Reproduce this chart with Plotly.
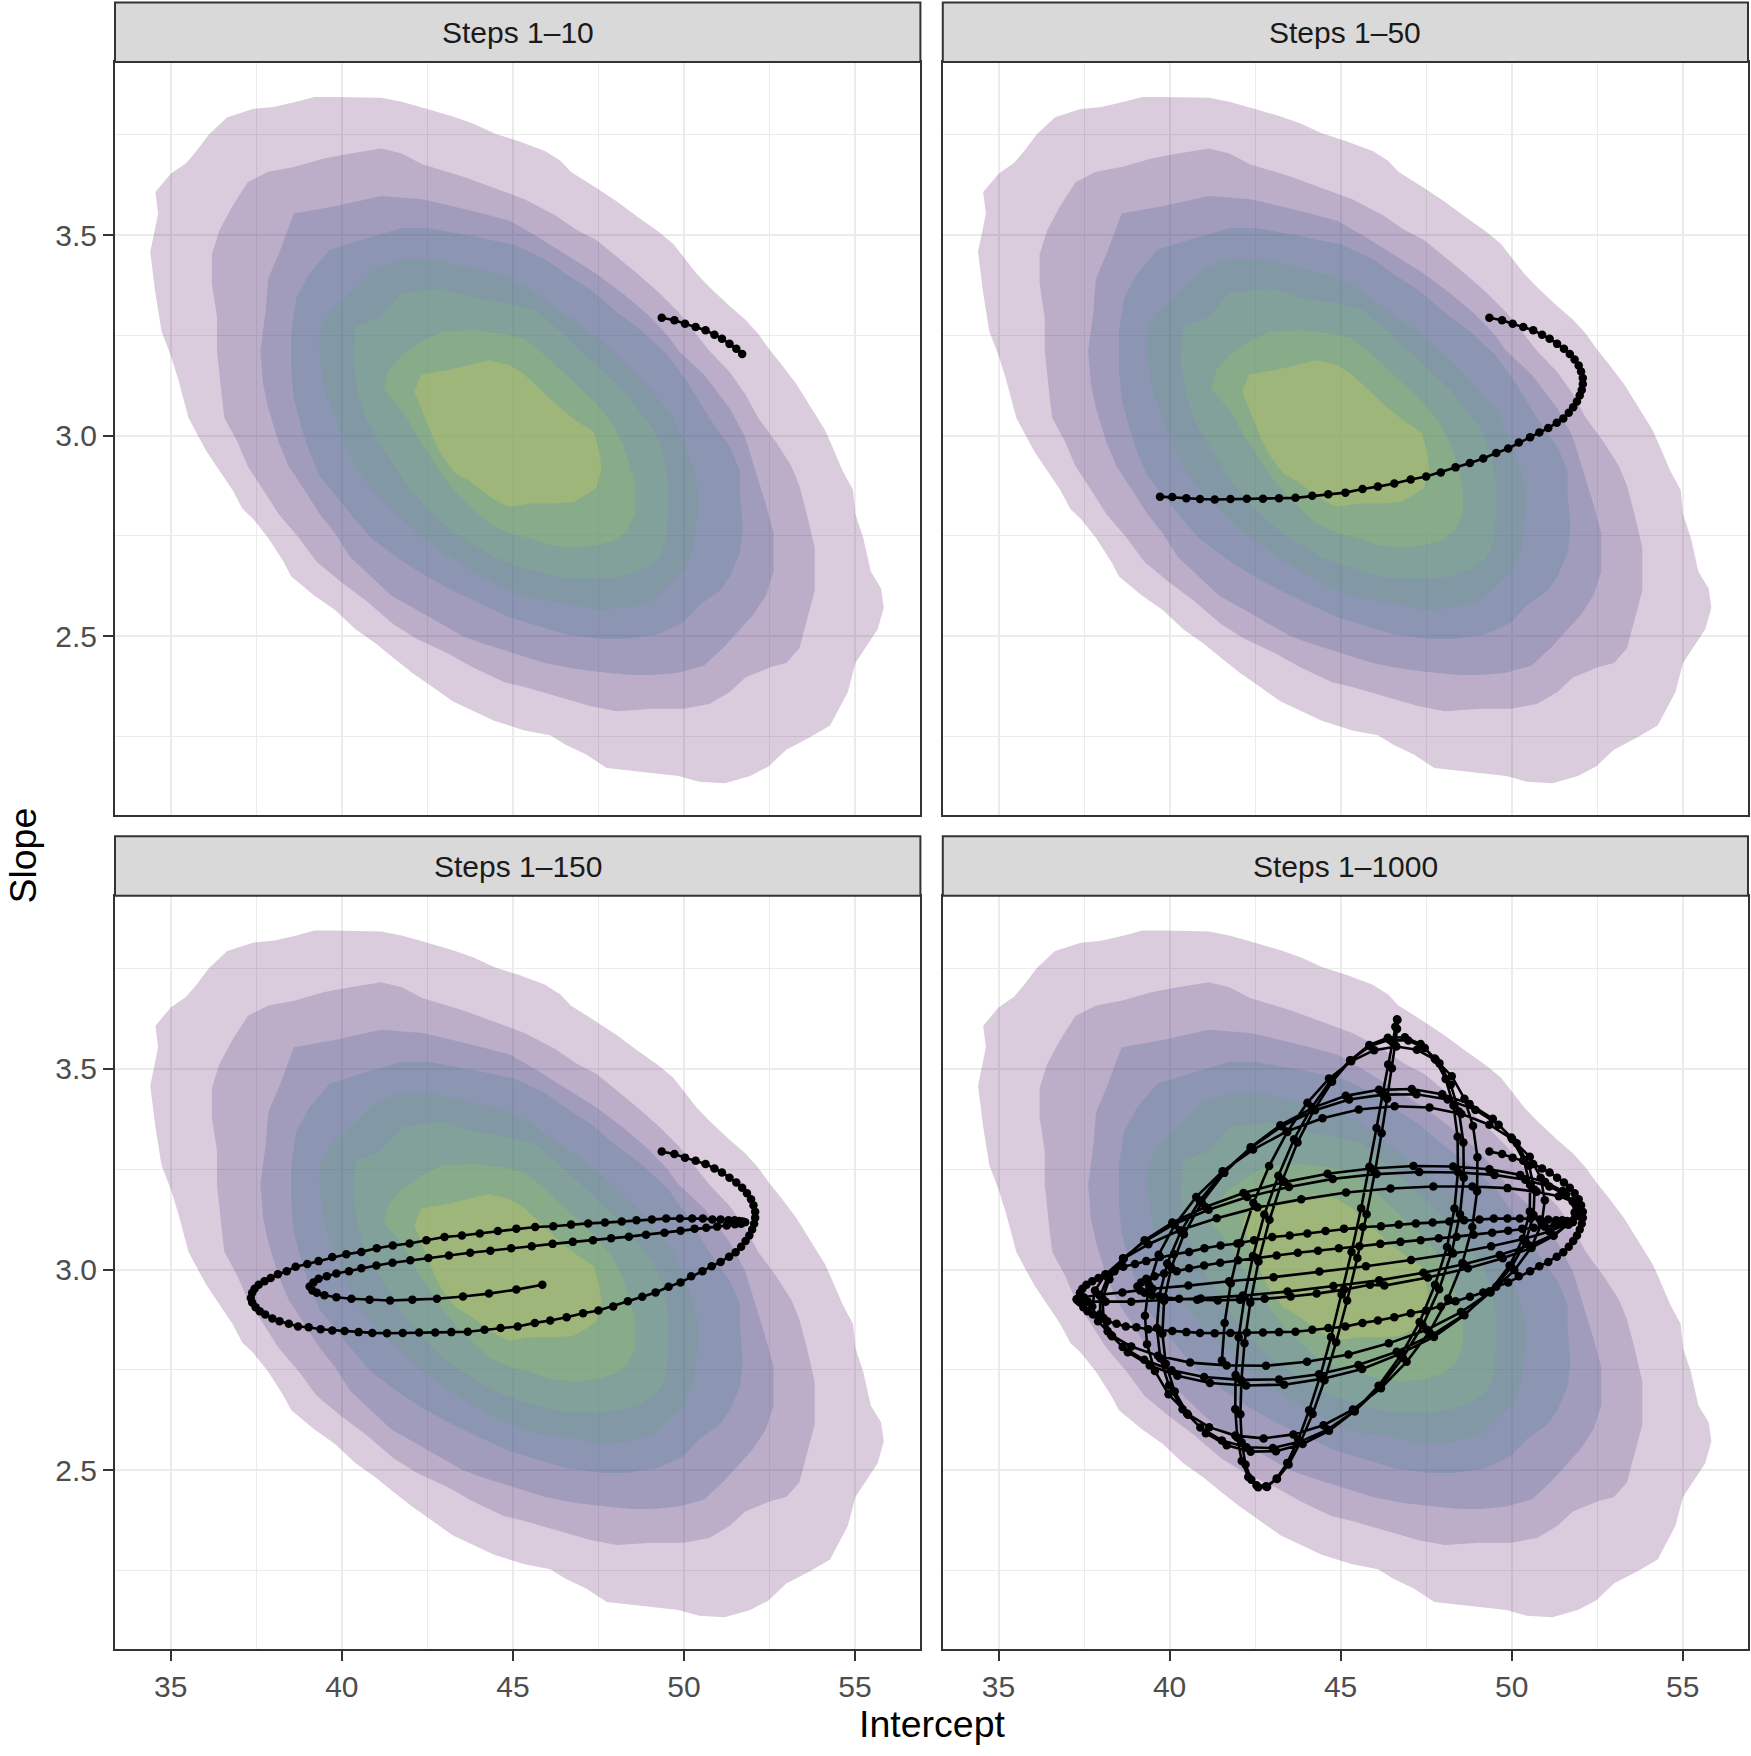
import plotly.graph_objects as go

# ---------------- data ----------------
facet_labels = ["Steps 1\u201310", "Steps 1\u201350", "Steps 1\u2013150", "Steps 1\u20131000"]
points_per_facet = [10, 50, 145, None]   # trajectory points shown in each facet

level_colors = ["#440154", "#46337E", "#365C8D", "#3C7D8E",
                "#5AA373", "#7DC86E", "#A5DC4B", "#FFE13C"]
level_alpha = 0.2

# density contour polygons (Intercept, Slope), outermost first
band_1 = [(39.20,3.845),(39.80,3.845),(41.15,3.843),(41.75,3.833),(42.50,3.815),(43.25,3.796),(43.85,3.778),(44.45,3.754),(45.19,3.734),(45.94,3.710),(46.39,3.686),(46.69,3.658),(47.44,3.618),(48.04,3.584),(48.64,3.546),(49.24,3.510),(49.69,3.478),(49.99,3.446),(50.37,3.404),(50.74,3.371),(51.34,3.323),(51.79,3.290),(52.17,3.254),(52.47,3.218),(52.84,3.179),(53.29,3.128),(53.74,3.066),(54.12,3.014),(54.34,2.972),(54.64,2.912),(54.94,2.865),(55.01,2.805),(55.24,2.745),(55.46,2.661),(55.76,2.619),(55.84,2.571),(55.66,2.517),(55.39,2.481),(55.01,2.433),(54.79,2.361),(54.56,2.325),(54.27,2.277),(53.67,2.247),(52.99,2.217),(52.47,2.175),(51.94,2.151),(51.19,2.133),(50.44,2.137),(49.84,2.151),(49.24,2.157),(48.64,2.163),(47.74,2.171),(47.14,2.205),(46.54,2.229),(46.09,2.253),(45.34,2.265),(44.45,2.289),(43.85,2.313),(43.25,2.337),(42.65,2.373),(42.05,2.409),(41.52,2.445),(41.00,2.481),(40.40,2.517),(39.80,2.565),(39.20,2.601),(38.52,2.649),(38.30,2.685),(37.85,2.745),(37.40,2.793),(37.10,2.817),(36.80,2.865),(36.42,2.912),(36.05,2.960),(35.82,2.996),(35.52,3.044),(35.22,3.140),(35.00,3.200),(34.73,3.260),(34.63,3.308),(34.55,3.356),(34.40,3.458),(34.63,3.554),(34.55,3.608),(35.00,3.653),(35.45,3.680),(35.75,3.710),(36.12,3.752),(36.65,3.794),(37.40,3.815),(38.00,3.820),(38.67,3.833)]
band_2 = [(40.25,3.704),(41.15,3.716),(41.75,3.704),(42.35,3.677),(43.55,3.646),(44.45,3.618),(45.34,3.590),(46.24,3.550),(46.84,3.514),(47.44,3.488),(48.04,3.446),(48.64,3.404),(49.24,3.359),(49.84,3.308),(50.29,3.260),(50.74,3.212),(51.34,3.158),(51.79,3.104),(52.17,3.044),(52.69,2.984),(53.14,2.924),(53.37,2.876),(53.59,2.805),(53.82,2.721),(53.82,2.613),(53.59,2.541),(53.37,2.469),(52.99,2.433),(52.54,2.423),(51.79,2.397),(51.34,2.361),(50.74,2.331),(49.99,2.319),(49.09,2.319),(48.04,2.313),(47.29,2.325),(46.54,2.343),(45.34,2.373),(44.75,2.385),(43.85,2.421),(43.10,2.457),(42.20,2.493),(41.52,2.529),(40.70,2.589),(39.95,2.637),(39.27,2.685),(38.75,2.745),(38.15,2.805),(37.70,2.865),(37.25,2.924),(36.95,2.984),(36.57,3.044),(36.50,3.092),(36.42,3.164),(36.35,3.212),(36.35,3.296),(36.20,3.380),(36.20,3.452),(36.42,3.512),(36.80,3.572),(37.25,3.632),(37.85,3.658),(38.60,3.670),(39.50,3.692)]
band_3 = [(38.60,3.554),(39.80,3.572),(41.15,3.598),(42.35,3.590),(43.85,3.560),(44.90,3.536),(45.64,3.500),(46.54,3.452),(47.44,3.404),(48.19,3.356),(48.94,3.302),(49.54,3.248),(49.84,3.212),(50.59,3.152),(51.34,3.068),(51.79,2.996),(52.09,2.912),(52.39,2.829),(52.62,2.757),(52.62,2.661),(52.39,2.601),(52.02,2.553),(51.64,2.517),(51.19,2.475),(50.59,2.427),(49.84,2.409),(49.09,2.403),(48.49,2.403),(47.74,2.409),(46.84,2.418),(45.94,2.433),(45.04,2.457),(44.15,2.481),(43.55,2.499),(42.95,2.529),(42.20,2.565),(41.45,2.601),(40.85,2.649),(40.25,2.697),(39.80,2.757),(39.35,2.805),(38.90,2.865),(38.45,2.924),(38.15,2.984),(37.85,3.068),(37.70,3.128),(37.62,3.212),(37.77,3.308),(37.85,3.392),(38.15,3.452)]
band_4 = [(39.65,3.464),(40.55,3.488),(41.75,3.518),(42.50,3.518),(43.70,3.500),(45.04,3.476),(45.94,3.440),(46.54,3.404),(47.29,3.362),(48.04,3.308),(48.79,3.260),(49.54,3.200),(50.14,3.128),(50.74,3.044),(51.34,2.972),(51.64,2.912),(51.64,2.853),(51.72,2.769),(51.64,2.709),(51.34,2.649),(51.04,2.613),(50.44,2.577),(49.99,2.535),(49.24,2.505),(48.34,2.493),(47.59,2.493),(46.54,2.505),(45.64,2.529),(44.90,2.547),(44.15,2.577),(43.25,2.613),(42.35,2.655),(41.60,2.697),(40.85,2.745),(40.25,2.805),(39.80,2.853),(39.35,2.900),(39.05,2.960),(38.82,3.020),(38.60,3.092),(38.52,3.164),(38.52,3.260),(38.67,3.344),(39.05,3.404)]
band_5 = [(41.00,3.416),(41.75,3.440),(42.65,3.440),(43.85,3.416),(44.75,3.398),(45.49,3.368),(46.24,3.320),(46.84,3.284),(47.59,3.236),(48.19,3.188),(48.79,3.140),(49.24,3.092),(49.69,3.044),(49.99,2.984),(50.29,2.912),(50.44,2.853),(50.37,2.793),(50.29,2.721),(49.99,2.661),(49.54,2.625),(49.09,2.589),(48.34,2.571),(47.44,2.565),(46.54,2.583),(45.49,2.595),(44.75,2.619),(43.85,2.661),(42.95,2.709),(42.20,2.757),(41.60,2.805),(41.00,2.853),(40.47,2.912),(40.10,2.972),(39.80,3.044),(39.50,3.116),(39.35,3.200),(39.35,3.260),(39.65,3.308),(40.25,3.356)]
band_6 = [(40.40,3.272),(41.15,3.296),(41.75,3.356),(42.35,3.362),(42.95,3.368),(43.85,3.344),(44.75,3.332),(45.64,3.314),(46.39,3.260),(46.99,3.212),(47.59,3.164),(48.19,3.116),(48.64,3.068),(49.09,3.020),(49.39,2.960),(49.54,2.888),(49.54,2.805),(49.47,2.733),(49.24,2.691),(48.79,2.667),(48.19,2.649),(47.44,2.643),(46.54,2.643),(45.94,2.655),(45.19,2.673),(44.45,2.697),(43.85,2.727),(43.10,2.769),(42.50,2.817),(41.90,2.876),(41.45,2.936),(41.00,2.996),(40.70,3.044),(40.47,3.104),(40.32,3.188)]
band_7 = [(41.22,3.116),(41.37,3.164),(41.75,3.200),(42.35,3.236),(42.95,3.260),(43.85,3.263),(44.75,3.254),(45.34,3.242),(45.94,3.200),(46.54,3.152),(47.14,3.104),(47.44,3.080),(47.89,3.032),(48.19,2.984),(48.42,2.924),(48.57,2.876),(48.57,2.805),(48.34,2.763),(47.97,2.739),(47.44,2.727),(46.84,2.721),(46.09,2.727),(45.49,2.745),(44.90,2.757),(44.30,2.781),(43.85,2.817),(43.40,2.853),(42.95,2.900),(42.50,2.960),(42.20,2.996),(41.90,3.044),(41.60,3.080)]
band_8 = [(42.32,3.152),(43.10,3.164),(43.85,3.179),(44.30,3.188),(44.90,3.176),(45.34,3.152),(45.79,3.116),(46.39,3.068),(46.84,3.038),(47.37,3.008),(47.52,2.960),(47.59,2.918),(47.44,2.871),(47.14,2.853),(46.77,2.835),(46.24,2.831),(45.49,2.831),(44.90,2.823),(44.45,2.841),(44.15,2.859),(43.70,2.888),(43.32,2.906),(42.95,2.948),(42.72,2.984),(42.50,3.032),(42.32,3.068),(42.12,3.110)]
bands = [band_1, band_2, band_3, band_4, band_5, band_6, band_7, band_8]

# sampler trajectory (Intercept, Slope), early steps read point by point
path_early = [(49.35,3.294),(49.72,3.288),(50.03,3.279),(50.34,3.271),(50.63,3.263),(50.89,3.252),(51.11,3.242),(51.33,3.229),(51.53,3.217),(51.70,3.204),
(51.84,3.190),(51.96,3.175),(52.03,3.160),(52.08,3.144),(52.08,3.129),(52.05,3.114),(51.99,3.100),(51.91,3.085),(51.80,3.071),(51.67,3.057),
(51.51,3.043),(51.32,3.032),(51.07,3.019),(50.81,3.008),(50.54,2.996),(50.21,2.983),(49.90,2.968),(49.55,2.957),(49.17,2.943),(48.78,2.932),
(48.36,2.921),(47.93,2.908),(47.50,2.898),(47.05,2.891),(46.57,2.881),(46.09,2.873),(45.64,2.867),(45.14,2.858),(44.64,2.854),(44.17,2.850),
(43.68,2.845),(43.20,2.844),(42.73,2.843),(42.26,2.843),(41.78,2.842),(41.32,2.841),(40.89,2.842),(40.49,2.844),(40.08,2.847),(39.72,2.848),
(39.38,2.851),(39.03,2.856),(38.72,2.858),(38.45,2.865),(38.18,2.871),(37.97,2.878),(37.76,2.888),(37.60,2.896),(37.48,2.906),(37.38,2.918),
(37.34,2.929),(37.38,2.942),(37.45,2.952),(37.57,2.962),(37.74,2.971),(37.92,2.979),(38.13,2.988),(38.39,2.996),(38.65,3.007),(38.99,3.014),
(39.32,3.021),(39.72,3.031),(40.13,3.038),(40.57,3.044),(41.02,3.053),(41.49,3.060),(41.98,3.065),(42.47,3.073),(43.00,3.081),(43.51,3.085),
(44.03,3.090),(44.56,3.096),(45.10,3.102),(45.65,3.106),(46.18,3.108),(46.70,3.112),(47.20,3.115),(47.69,3.117),(48.18,3.120),(48.61,3.123),
(49.06,3.125),(49.48,3.127),(49.88,3.127),(50.24,3.127),(50.55,3.127),(50.83,3.125),(51.07,3.125),(51.30,3.123),(51.48,3.123),(51.61,3.121),
(51.72,3.120),(51.79,3.118),(51.67,3.114),(51.49,3.113),(51.25,3.110),(50.97,3.107),(50.65,3.104),(50.31,3.102),(49.90,3.097),(49.43,3.092),
(48.89,3.087),(48.39,3.082),(47.87,3.078),(47.34,3.073),(46.75,3.069),(46.16,3.064),(45.55,3.058),(44.95,3.053),(44.34,3.047),(43.75,3.042),
(43.13,3.035),(42.53,3.029),(42.00,3.023),(41.48,3.017),(41.01,3.010),(40.57,3.003),(40.21,2.996),(39.84,2.990),(39.56,2.983),(39.32,2.977),
(39.17,2.968),(39.06,2.958),(39.14,2.948),(39.27,2.942),(39.49,2.936),(39.84,2.931),(40.28,2.927),(40.81,2.925),(41.41,2.923),(42.06,2.925),
(42.78,2.927),(43.54,2.933),(44.30,2.940),(45.10,2.950),(45.86,2.962)]

# later steps (estimated along the visible loops of the last facet)
path_late = [(46.28,2.960),(47.55,2.980),(48.72,3.003),(49.74,3.028),(50.58,3.054),(51.23,3.084),(51.65,3.113),(51.84,3.142),(51.78,3.170),(51.49,3.196),(50.98,3.218),(50.25,3.236),(49.35,3.250),(48.29,3.257),(47.13,3.258),(45.89,3.252),(44.62,3.239),(43.36,3.218),(42.16,3.191),(41.05,3.156),(40.08,3.117),(39.27,3.073),(38.66,3.027),(38.24,2.976),(38.04,2.928),(38.07,2.879),(38.32,2.834),(38.78,2.794),(39.42,2.761),(40.23,2.735),(41.18,2.717),(42.24,2.711),(43.35,2.713),(44.49,2.728),(45.63,2.752),(46.72,2.789),
(47.73,2.832),(48.62,2.886),(49.36,2.946),(49.94,3.010),(50.33,3.077),(50.53,3.145),(50.54,3.211),(50.35,3.273),(49.99,3.329),(49.45,3.376),(48.77,3.413),(47.97,3.437),(47.08,3.450),(46.12,3.448),(45.15,3.433),(44.18,3.403),(43.24,3.360),(42.37,3.305),(41.60,3.241),(40.94,3.167),(40.42,3.088),(40.05,3.005),(39.84,2.922),(39.79,2.840),(39.89,2.765),(40.15,2.696),(40.54,2.638),(41.06,2.592),(41.67,2.562),(42.37,2.546),(43.11,2.547),(43.89,2.565),(44.66,2.598),(45.41,2.647),(46.11,2.710),(46.76,2.786),
(47.31,2.869),(47.76,2.962),(48.11,3.056),(48.33,3.152),(48.43,3.244),(48.42,3.331),(48.30,3.409),(48.07,3.475),(47.75,3.526),(47.34,3.562),(46.88,3.579),(46.38,3.578),(45.84,3.560),(45.29,3.522),(44.75,3.468),(44.23,3.399),(43.74,3.317),(43.30,3.223),(42.92,3.124),(42.60,3.020),(42.36,2.917),(42.19,2.816),(42.10,2.723),(42.07,2.639),(42.11,2.569),(42.22,2.514),(42.39,2.476),(42.59,2.457),(42.85,2.458),(43.13,2.479),(43.44,2.518),(43.76,2.576),(44.08,2.649),(44.41,2.736),(44.72,2.832),(45.03,2.938),
(45.32,3.044),(45.60,3.153),(45.84,3.256),(46.05,3.353),(46.23,3.438),(46.39,3.511),(46.51,3.567),(46.60,3.605),(46.65,3.624),(46.66,3.622),(46.65,3.600),(46.59,3.559),(46.50,3.502),(46.36,3.426),(46.20,3.340),(46.00,3.242),(45.76,3.138),(45.49,3.029),(45.19,2.923),(44.87,2.819),(44.53,2.724),(44.18,2.640),(43.83,2.570),(43.48,2.514),(43.14,2.478),(42.82,2.460),(42.54,2.462),(42.30,2.483),(42.11,2.523),(41.98,2.581),(41.92,2.652),(41.93,2.737),(42.02,2.831),(42.19,2.931),(42.44,3.034),(42.77,3.137),
(43.18,3.234),(43.64,3.325),(44.16,3.405),(44.71,3.471),(45.28,3.522),(45.86,3.557),(46.43,3.573),(46.98,3.571),(47.46,3.552),(47.89,3.514),(48.22,3.461),(48.46,3.394),(48.59,3.317),(48.60,3.229),(48.49,3.138),(48.25,3.044),(47.88,2.951),(47.40,2.861),(46.82,2.780),(46.15,2.707),(45.41,2.647),(44.62,2.601),(43.82,2.571),(43.02,2.555),(42.25,2.557),(41.53,2.574),(40.90,2.606),(40.38,2.652),(39.98,2.711),(39.73,2.779),(39.63,2.854),(39.70,2.934),(39.93,3.015),(40.33,3.095),(40.88,3.172),(41.57,3.243),
(42.38,3.304),(43.28,3.357),(44.25,3.397),(45.25,3.424),(46.25,3.436),(47.22,3.437),(48.13,3.424),(48.94,3.398),(49.62,3.361),(50.15,3.315),(50.51,3.259),(50.67,3.199),(50.64,3.136),(50.41,3.069),(49.99,3.006),(49.38,2.944),(48.60,2.887),(47.68,2.837),(46.64,2.795),(45.52,2.762),(44.37,2.739),(43.20,2.726),(42.08,2.725),(41.01,2.732),(40.06,2.749),(39.26,2.775),(38.63,2.807),(38.19,2.846),(37.97,2.889),(37.97,2.934),(38.19,2.981),(38.64,3.028),(39.29,3.071),(40.13,3.113),(41.14,3.149),(42.27,3.181),
(43.49,3.206),(44.77,3.226),(46.05,3.238),(47.30,3.243),(48.45,3.242),(49.50,3.236),(50.40,3.224),(51.10,3.207),(51.59,3.187),(51.85,3.164),(51.88,3.138),(51.66,3.112),(51.20,3.086),(50.52,3.060),(49.65,3.036),(48.60,3.013),(47.42,2.992),(46.13,2.973),(44.79,2.959),(43.45,2.945),(42.14,2.935),(40.91,2.928),(39.82,2.924),(38.88,2.920),(38.13,2.920),(37.61,2.920),(37.32,2.922),(37.28,2.926),(37.49,2.931),(37.94,2.937),(38.62,2.943),(39.50,2.952),(40.55,2.960),(41.74,2.971),(43.04,2.981),(44.38,2.995),
(45.74,3.008),(47.06,3.024),(48.29,3.040),(49.40,3.058),(50.34,3.076),(51.10,3.095),(51.63,3.114),(51.93,3.133),(51.99,3.152),(51.80,3.169),(51.38,3.183),(50.73,3.194),(49.88,3.203),(48.85,3.207),(47.71,3.207),(46.46,3.202),(45.16,3.192),(43.85,3.175),(42.57,3.155),(41.38,3.128),(40.30,3.098),(39.38,3.063),(38.65,3.027),(38.12,2.987),(37.82,2.948),(37.74,2.908),(37.91,2.871),(38.29,2.837),(38.88,2.808),(39.66,2.785),(40.60,2.768),(41.67,2.761),(42.82,2.760),(44.02,2.770),(45.23,2.788),(46.41,2.816),
(47.52,2.850),(48.52,2.894),(49.38,2.943),(50.08,2.998),(50.57,3.055),(50.88,3.115),(50.97,3.173),(50.85,3.229),(50.53,3.281),(50.02,3.325),(49.35,3.361),(48.53,3.388),(47.60,3.404),(46.58,3.407),(45.53,3.399),(44.47,3.377),(43.42,3.344),(42.44,3.299),(41.55,3.245),(40.78,3.181),(40.15,3.111),(39.68,3.037),(39.40,2.961),(39.28,2.885),(39.34,2.814),(39.57,2.747),(39.97,2.689),(40.51,2.641),(41.16,2.607),(41.92,2.586),(42.75,2.579),(43.62,2.589),(44.50,2.612),(45.36,2.651),(46.18,2.704),(46.93,2.770),
(47.59,2.844),(48.14,2.928),(48.56,3.016),(48.85,3.106),(48.99,3.195),(49.00,3.280),(48.87,3.358),(48.62,3.426),(48.25,3.482),(47.78,3.523),(47.23,3.548),(46.63,3.556),(45.98,3.547),(45.31,3.519),(44.66,3.476),(44.03,3.416),(43.44,3.343),(42.91,3.258),(42.45,3.166),(42.07,3.066),(41.79,2.966),(41.61,2.867),(41.53,2.773)]

x_range = [33.37, 56.91]
y_range = [2.054, 3.932]

# ---------------- figure ----------------
FONT = "Liberation Sans, Arial, Helvetica, sans-serif"
W, H = 1751, 1756
ML, MR, MT, MB = 115, 1, 62, 107
PW, PH = W - ML - MR, H - MT - MB

def px_x(p):
    return (p - ML) / PW

def px_y(p):
    return (H - MB - p) / PH

x_domains = [[0, px_x(921.4)], [px_x(943.8), 1.0]]
y_domains = [[px_y(815.0), 1.0], [0, px_y(895.7)]]
strip_h = 59.4 / PH

def rgba(hex_color, a):
    h = hex_color.lstrip("#")
    r, g, b = int(h[0:2], 16), int(h[2:4], 16), int(h[4:6], 16)
    return f"rgba({r},{g},{b},{a})"

path_all = path_early + path_late

fig = go.Figure()
layout = dict(
    width=W, height=H,
    margin=dict(l=ML, r=MR, t=MT, b=MB, pad=0),
    paper_bgcolor="white", plot_bgcolor="white",
    showlegend=False,
    font=dict(family=FONT),
)

shapes = []
annotations = []
for p in range(4):
    row, col = p // 2, p % 2
    sfx = "" if p == 0 else str(p + 1)
    xa, ya = "x" + sfx, "y" + sfx
    for k, band in enumerate(bands):
        bx = [pt[0] for pt in band] + [band[0][0]]
        by = [pt[1] for pt in band] + [band[0][1]]
        fig.add_trace(go.Scatter(
            x=bx, y=by, mode="lines", fill="toself",
            fillcolor=rgba(level_colors[k], level_alpha),
            line=dict(width=0, color="rgba(0,0,0,0)"),
            hoverinfo="skip", xaxis=xa, yaxis=ya))
    n = points_per_facet[p]
    pts = path_all if n is None else path_all[:n]
    fig.add_trace(go.Scatter(
        x=[pt[0] for pt in pts], y=[pt[1] for pt in pts],
        mode="lines+markers",
        line=dict(color="black", width=2.6),
        marker=dict(color="black", size=8.5, line=dict(width=0)),
        xaxis=xa, yaxis=ya))

    bottom = row == 1
    left = col == 0
    layout["xaxis" + sfx] = dict(
        domain=x_domains[col], anchor=ya, range=x_range,
        tick0=0, dtick=5, showgrid=True, gridcolor="#EBEBEB", gridwidth=2.4,
        minor=dict(dtick=2.5, showgrid=True, gridcolor="#EBEBEB", gridwidth=1.2),
        zeroline=False, showline=True, linecolor="#333333", linewidth=2, mirror=True,
        ticks="outside" if bottom else "", ticklen=10, tickwidth=2, tickcolor="#333333",
        showticklabels=bottom, tickfont=dict(size=30, color="#4D4D4D", family=FONT))
    layout["yaxis" + sfx] = dict(
        domain=y_domains[row], anchor=xa, range=y_range,
        tick0=0, dtick=0.5, tickformat=".1f",
        showgrid=True, gridcolor="#EBEBEB", gridwidth=2.4,
        minor=dict(dtick=0.25, showgrid=True, gridcolor="#EBEBEB", gridwidth=1.2),
        zeroline=False, showline=True, linecolor="#333333", linewidth=2, mirror=True,
        ticks="outside" if left else "", ticklen=10, tickwidth=2, tickcolor="#333333",
        showticklabels=left, tickfont=dict(size=30, color="#4D4D4D", family=FONT))

    x0, x1 = x_domains[col]
    y0 = y_domains[row][1]
    shapes.append(dict(type="rect", xref="paper", yref="paper",
                       x0=x0, x1=x1, y0=y0, y1=y0 + strip_h,
                       fillcolor="#D9D9D9", line=dict(color="#333333", width=2)))
    annotations.append(dict(text=facet_labels[p], xref="paper", yref="paper",
                            x=(x0 + x1) / 2, y=y0 + strip_h / 2,
                            xanchor="center", yanchor="middle", showarrow=False,
                            font=dict(size=30, color="#1A1A1A", family=FONT)))

annotations.append(dict(text="Intercept", xref="paper", yref="paper",
                        x=0.5, y=px_y(1724), xanchor="center", yanchor="middle",
                        showarrow=False, font=dict(size=37.5, color="black", family=FONT)))
annotations.append(dict(text="Slope", xref="paper", yref="paper",
                        x=px_x(22), y=0.5, xanchor="center", yanchor="middle",
                        textangle=-90, showarrow=False,
                        font=dict(size=37.5, color="black", family=FONT)))

layout["shapes"] = shapes
layout["annotations"] = annotations
fig.update_layout(**layout)

fig.write_html("out.html")
